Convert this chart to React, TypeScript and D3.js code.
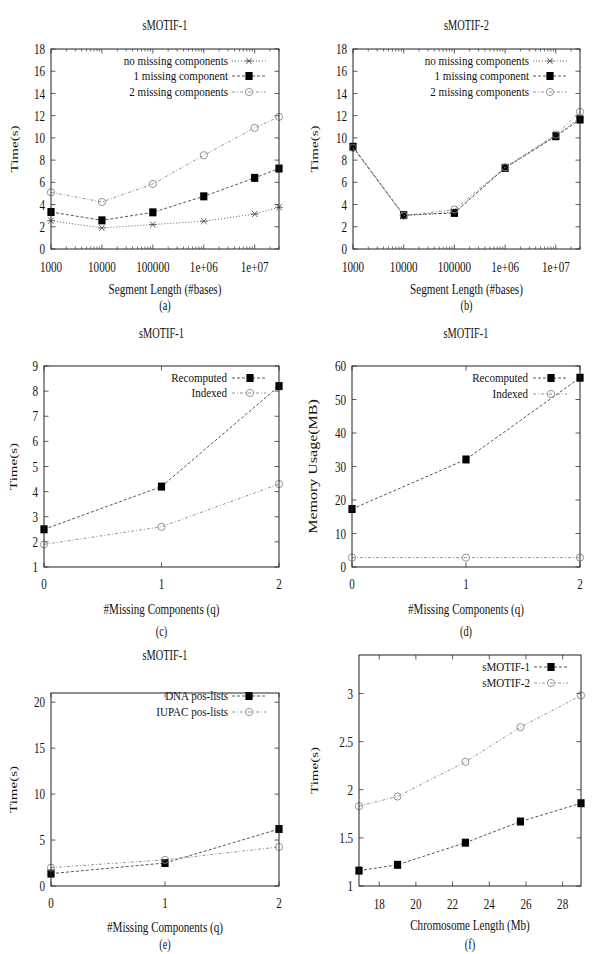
import React from "react";
import * as d3 from "d3";

// ---------- data ----------
const segLengths = [1000, 10000, 100000, 1e6, 1e7, 3e7];
const segTickValues = [1000, 10000, 100000, 1e6, 1e7];
const segTickLabels = ["1000", "10000", "100000", "1e+06", "1e+07"];
const s1NoMissing = [2.55, 1.9, 2.2, 2.5, 3.15, 3.75];
const s1OneMissing = [3.33, 2.58, 3.3, 4.74, 6.4, 7.24];
const s1TwoMissing = [5.1, 4.23, 5.85, 8.44, 10.9, 11.9];
const s2NoMissing = [9.2, 3.0, 3.3, 7.3, 10.2, 11.8];
const s2OneMissing = [9.2, 3.05, 3.25, 7.3, 10.15, 11.65];
const s2TwoMissing = [9.1, 3.0, 3.55, 7.35, 10.3, 12.35];
const missingQ = [0, 1, 2];
const timeRecomputed = [2.5, 4.2, 8.2];
const timeIndexed = [1.9, 2.6, 4.3];
const memRecomputed = [17.3, 32.1, 56.5];
const memIndexed = [2.8, 2.8, 2.8];
const timeDNA = [1.35, 2.5, 6.2];
const timeIUPAC = [2.0, 2.85, 4.25];
const chromLengths = [16.9, 19.0, 22.7, 25.7, 29.0];
const chromS1 = [1.16, 1.22, 1.45, 1.67, 1.86];
const chromS2 = [1.83, 1.93, 2.29, 2.65, 2.98];

const SX = 0.74;
const FS = 15;
const FONT = "'Liberation Serif', 'DejaVu Serif', serif";

type Marker = "star" | "square" | "circle";
interface Series { name: string; xs: number[]; ys: number[]; marker: Marker; dash: string; color: string; }
interface PanelCfg {
  left: number; right: number; top: number; bottom: number;
  log: boolean; xDomain: [number, number]; yDomain: [number, number];
  xTicks: number[]; xLabels: string[]; yTicks: number[]; yLabels: string[];
  minorX?: number[];
  title?: string; titleY?: number; xLabel: string; yLabel: string; yLabelX: number; yLabelSize?: number;
  xTickY: number; xLabelY: number; caption: string; captionY: number;
  series: Series[]; legendTextRight: number; legendY: number[]; legendX1: number; legendX2: number; legendMX: number;
}

function T({ x, y, anchor = "middle", size = FS, sx = SX, rotate = false, children }: any) {
  return (
    <text
      transform={`translate(${x},${y}) scale(${sx},1)${rotate ? " rotate(-90)" : ""}`}
      textAnchor={anchor}
      dominantBaseline="central"
      fontFamily={FONT}
      fontSize={size}
      fill="#111"
    >
      {children}
    </text>
  );
}

function MarkerG({ type, x, y }: { type: Marker; x: number; y: number }) {
  if (type === "square") return <rect x={x - 3.6} y={y - 4} width={7.2} height={8} fill="#000" />;
  if (type === "circle") return <circle cx={x} cy={y} r={3.6} fill="none" stroke="#888" strokeWidth={0.9} />;
  const r = 3.8;
  return (
    <g stroke="#555" strokeWidth={0.9}>
      <line x1={x - r} y1={y} x2={x + r} y2={y} />
      <line x1={x - r * 0.7} y1={y - r * 0.8} x2={x + r * 0.7} y2={y + r * 0.8} />
      <line x1={x - r * 0.7} y1={y + r * 0.8} x2={x + r * 0.7} y2={y - r * 0.8} />
    </g>
  );
}

function Panel({ c }: { c: PanelCfg }) {
  const x = c.log
    ? d3.scaleLog().domain(c.xDomain).range([c.left, c.right])
    : d3.scaleLinear().domain(c.xDomain).range([c.left, c.right]);
  const y = d3.scaleLinear().domain(c.yDomain).range([c.bottom, c.top]);
  const line = d3.line<[number, number]>().x((d) => x(d[0])).y((d) => y(d[1]));
  const tk = 4.5;
  const mk = 2.5;
  return (
    <g>
      {c.title && <T x={(c.left + c.right) / 2} y={c.titleY} size={14}>{c.title}</T>}
      {c.yTicks.map((t, i) => (
        <g key={"y" + i}>
          <line x1={c.left} x2={c.left + tk} y1={y(t)} y2={y(t)} stroke="#333" strokeWidth={0.8} />
          <line x1={c.right} x2={c.right - tk} y1={y(t)} y2={y(t)} stroke="#333" strokeWidth={0.8} />
          <T x={c.left - 6} y={y(t)} anchor="end">{c.yLabels[i]}</T>
        </g>
      ))}
      {c.xTicks.map((t, i) => (
        <g key={"x" + i}>
          <line x1={x(t)} x2={x(t)} y1={c.bottom} y2={c.bottom - tk} stroke="#333" strokeWidth={0.8} />
          <line x1={x(t)} x2={x(t)} y1={c.top} y2={c.top + tk} stroke="#333" strokeWidth={0.8} />
          <T x={x(t)} y={c.xTickY}>{c.xLabels[i]}</T>
        </g>
      ))}
      {(c.minorX || []).map((t, i) => (
        <g key={"m" + i}>
          <line x1={x(t)} x2={x(t)} y1={c.bottom} y2={c.bottom - mk} stroke="#333" strokeWidth={0.7} />
          <line x1={x(t)} x2={x(t)} y1={c.top} y2={c.top + mk} stroke="#333" strokeWidth={0.7} />
        </g>
      ))}
      {c.series.map((s, si) => {
        const pts = s.xs.map((v, i) => [v, s.ys[i]] as [number, number]);
        const ly = c.legendY[si];
        return (
          <g key={"s" + si}>
            <path d={line(pts) || ""} fill="none" stroke={s.color} strokeWidth={0.9} strokeDasharray={s.dash} />
            {pts.map((p, i) => <MarkerG key={i} type={s.marker} x={x(p[0])} y={y(p[1])} />)}
            <T x={c.legendTextRight} y={ly} anchor="end" size={13} sx={0.85}>{s.name}</T>
            <line x1={c.legendX1} x2={c.legendX2} y1={ly} y2={ly} stroke={s.color} strokeWidth={0.9} strokeDasharray={s.dash} />
            <MarkerG type={s.marker} x={c.legendMX} y={ly} />
          </g>
        );
      })}
      <rect x={c.left} y={c.top} width={c.right - c.left} height={c.bottom - c.top} fill="none" stroke="#222" strokeWidth={1} />
      <T x={c.yLabelX} y={(c.top + c.bottom) / 2} rotate size={c.yLabelSize || 15}>{c.yLabel}</T>
      <T x={(c.left + c.right) / 2} y={c.xLabelY}>{c.xLabel}</T>
      <T x={(c.left + c.right) / 2} y={c.captionY} size={14}>{c.caption}</T>
    </g>
  );
}

const logMinor: number[] = [];
[1000, 10000, 100000, 1e6, 1e7].forEach((d) => {
  for (let k = 2; k <= 9; k++) if (d * k <= 3e7) logMinor.push(d * k);
});

const lineStyles = {
  none: { dash: "1,2", color: "#555" },
  one: { dash: "3,2", color: "#444" },
  two: { dash: "3,2,1,2", color: "#888" },
};

const range = (a: number, b: number, s: number) => d3.range(a, b + s / 2, s);

const panels: PanelCfg[] = [
  {
    left: 51, right: 279, top: 49, bottom: 249, log: true, xDomain: [1000, 3e7], yDomain: [0, 18],
    xTicks: segTickValues, xLabels: segTickLabels, minorX: logMinor,
    yTicks: range(0, 18, 2), yLabels: range(0, 18, 2).map(String),
    title: "sMOTIF-1", titleY: 25, xLabel: "Segment Length (#bases)", yLabel: "Time(s)", yLabelX: 14,
    xTickY: 267, xLabelY: 289, caption: "(a)", captionY: 305,
    series: [
      { name: "no missing components", xs: segLengths, ys: s1NoMissing, marker: "star", ...lineStyles.none },
      { name: "1 missing component", xs: segLengths, ys: s1OneMissing, marker: "square", ...lineStyles.one },
      { name: "2 missing components", xs: segLengths, ys: s1TwoMissing, marker: "circle", ...lineStyles.two },
    ],
    legendTextRight: 228, legendY: [61, 76, 92], legendX1: 232, legendX2: 266, legendMX: 249,
  },
  {
    left: 353, right: 580, top: 49, bottom: 249, log: true, xDomain: [1000, 3e7], yDomain: [0, 18],
    xTicks: segTickValues, xLabels: segTickLabels, minorX: logMinor,
    yTicks: range(0, 18, 2), yLabels: range(0, 18, 2).map(String),
    title: "sMOTIF-2", titleY: 25, xLabel: "Segment Length (#bases)", yLabel: "Time(s)", yLabelX: 314,
    xTickY: 267, xLabelY: 289, caption: "(b)", captionY: 305,
    series: [
      { name: "no missing components", xs: segLengths, ys: s2NoMissing, marker: "star", ...lineStyles.none },
      { name: "1 missing component", xs: segLengths, ys: s2OneMissing, marker: "square", ...lineStyles.one },
      { name: "2 missing components", xs: segLengths, ys: s2TwoMissing, marker: "circle", ...lineStyles.two },
    ],
    legendTextRight: 529, legendY: [61, 76, 92], legendX1: 533, legendX2: 567, legendMX: 550,
  },
  {
    left: 44, right: 279, top: 366, bottom: 567, log: false, xDomain: [0, 2], yDomain: [1, 9],
    xTicks: missingQ, xLabels: missingQ.map(String),
    yTicks: range(1, 9, 1), yLabels: range(1, 9, 1).map(String),
    title: "sMOTIF-1", titleY: 333, xLabel: "#Missing Components (q)", yLabel: "Time(s)", yLabelX: 13,
    xTickY: 584, xLabelY: 609, caption: "(c)", captionY: 631,
    series: [
      { name: "Recomputed", xs: missingQ, ys: timeRecomputed, marker: "square", ...lineStyles.one },
      { name: "Indexed", xs: missingQ, ys: timeIndexed, marker: "circle", ...lineStyles.two },
    ],
    legendTextRight: 227, legendY: [378, 393], legendX1: 232, legendX2: 266, legendMX: 250,
  },
  {
    left: 352, right: 580, top: 366, bottom: 567, log: false, xDomain: [0, 2], yDomain: [0, 60],
    xTicks: missingQ, xLabels: missingQ.map(String),
    yTicks: range(0, 60, 10), yLabels: range(0, 60, 10).map(String),
    title: "sMOTIF-1", titleY: 333, xLabel: "#Missing Components (q)", yLabel: "Memory Usage(MB)", yLabelX: 313, yLabelSize: 16,
    xTickY: 584, xLabelY: 609, caption: "(d)", captionY: 631,
    series: [
      { name: "Recomputed", xs: missingQ, ys: memRecomputed, marker: "square", ...lineStyles.one },
      { name: "Indexed", xs: missingQ, ys: memIndexed, marker: "circle", ...lineStyles.two },
    ],
    legendTextRight: 528, legendY: [378, 394], legendX1: 533, legendX2: 567, legendMX: 551,
  },
  {
    left: 51, right: 279, top: 693, bottom: 886, log: false, xDomain: [0, 2], yDomain: [0, 21],
    xTicks: missingQ, xLabels: missingQ.map(String),
    yTicks: range(0, 20, 5), yLabels: range(0, 20, 5).map(String),
    title: "sMOTIF-1", titleY: 655, xLabel: "#Missing Components (q)", yLabel: "Time(s)", yLabelX: 13,
    xTickY: 903, xLabelY: 927, caption: "(e)", captionY: 944,
    series: [
      { name: "DNA pos-lists", xs: missingQ, ys: timeDNA, marker: "square", ...lineStyles.one },
      { name: "IUPAC pos-lists", xs: missingQ, ys: timeIUPAC, marker: "circle", ...lineStyles.two },
    ],
    legendTextRight: 228, legendY: [696, 712], legendX1: 232, legendX2: 266, legendMX: 249,
  },
  {
    left: 359, right: 581, top: 655, bottom: 886, log: false, xDomain: [16.9, 29.0], yDomain: [1, 3.4],
    xTicks: range(18, 28, 2), xLabels: range(18, 28, 2).map(String),
    yTicks: [1, 1.5, 2, 2.5, 3], yLabels: ["1", "1.5", "2", "2.5", "3"],
    xLabel: "Chromosome Length (Mb)", yLabel: "Time(s)", yLabelX: 314,
    xTickY: 904, xLabelY: 925, caption: "(f)", captionY: 944,
    series: [
      { name: "sMOTIF-1", xs: chromLengths, ys: chromS1, marker: "square", ...lineStyles.one },
      { name: "sMOTIF-2", xs: chromLengths, ys: chromS2, marker: "circle", ...lineStyles.two },
    ],
    legendTextRight: 530, legendY: [667, 683], legendX1: 534, legendX2: 568, legendMX: 551,
  },
];

export default function App() {
  return (
    <svg width={600} height={954} style={{ position: "absolute", left: 0, top: 0, background: "#fff" }}>
      <rect x={0} y={0} width={600} height={954} fill="#fff" />
      {panels.map((p, i) => <Panel key={i} c={p} />)}
    </svg>
  );
}
